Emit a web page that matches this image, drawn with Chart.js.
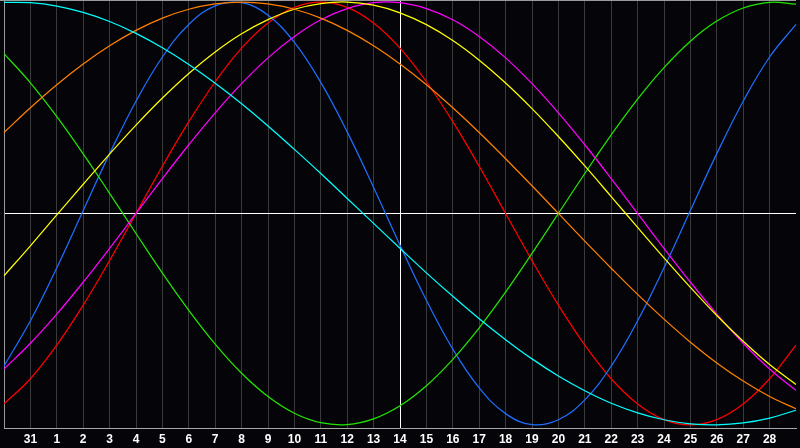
<!DOCTYPE html>
<html>
<head>
<meta charset="utf-8">
<script src="https://cdn.jsdelivr.net/npm/chart.js@4/dist/chart.umd.min.js"></script>
<style>
html,body{margin:0;padding:0;background:#050509;}
canvas{display:block;}
</style>
</head>
<body>
<canvas id="c" width="800" height="448"></canvas>
<script>
const days = ['30','31','1','2','3','4','5','6','7','8','9','10','11','12','13','14','15','16','17','18','19','20','21','22','23','24','25','26','27','28','29'];
const todayLabel = '14';

const physical = [-0.722,-0.508,-0.257,0.014,0.283,0.531,0.740,0.894,0.982,0.997,0.938,0.809,0.620,0.386,0.123,-0.150,-0.411,-0.642,-0.825,-0.947,-0.999,-0.976,-0.882,-0.722,-0.508,-0.257,0.014,0.283,0.531,0.740,0.894];
const emotional = [-0.901,-0.782,-0.623,-0.434,-0.223,0,0.223,0.434,0.623,0.782,0.901,0.975,1.000,0.975,0.901,0.782,0.623,0.434,0.223,0,-0.223,-0.434,-0.623,-0.782,-0.901,-0.975,-1.000,-0.975,-0.901,-0.782,-0.623];
const intellectual = [0.756,0.618,0.458,0.282,0.095,-0.095,-0.282,-0.458,-0.618,-0.756,-0.866,-0.945,-0.990,-0.999,-0.972,-0.910,-0.815,-0.690,-0.541,-0.372,-0.189,0,0.189,0.372,0.541,0.690,0.815,0.910,0.972,0.999,0.990];
const intuitive = [-0.736,-0.614,-0.476,-0.325,-0.165,0,0.165,0.325,0.476,0.614,0.736,0.837,0.916,0.969,0.997,0.997,0.969,0.916,0.837,0.736,0.614,0.476,0.325,0.165,0,-0.165,-0.325,-0.476,-0.614,-0.736,-0.837];
const aesthetic = [-0.295,-0.153,-0.007,0.138,0.281,0.418,0.546,0.662,0.764,0.850,0.917,0.966,0.993,1.000,0.985,0.949,0.893,0.818,0.725,0.617,0.496,0.364,0.225,0.080,-0.066,-0.210,-0.350,-0.483,-0.605,-0.715,-0.809];
const awareness = [0.383,0.500,0.609,0.707,0.793,0.866,0.924,0.966,0.991,1.000,0.991,0.966,0.924,0.866,0.793,0.707,0.609,0.500,0.383,0.259,0.131,0,-0.131,-0.259,-0.383,-0.500,-0.609,-0.707,-0.793,-0.866,-0.924];
const spiritual = [0.999,0.997,0.981,0.951,0.908,0.852,0.784,0.705,0.616,0.519,0.414,0.303,0.189,0.071,-0.047,-0.165,-0.281,-0.392,-0.498,-0.597,-0.688,-0.769,-0.839,-0.898,-0.943,-0.976,-0.995,-1.000,-0.991,-0.968,-0.931];

const seriesNames = ['Spiritual','Awareness','Aesthetic','Intuitive','Intellectual','Physical','Emotional'];
const seriesData = [spiritual, awareness, aesthetic, intuitive, intellectual, physical, emotional];
const seriesColors = ['#00ffff','#ff8000','#ffff00','#ff00ff','#22e600','#1e6eff','#ff0000'];

const todayIndex = days.indexOf(todayLabel, 2);

const framePlugin = {
  id: 'frame',
  beforeDraw(chart) {
    const ctx = chart.ctx;
    ctx.save();
    ctx.fillStyle = '#050509';
    ctx.fillRect(0, 0, chart.width, chart.height);
    ctx.restore();
  },
  afterDraw(chart) {
    const ctx = chart.ctx, a = chart.chartArea;
    ctx.save();
    ctx.strokeStyle = '#9a9a9a';
    ctx.lineWidth = 1;
    ctx.beginPath();
    ctx.moveTo(0, 0.5);
    ctx.lineTo(a.right, 0.5);
    ctx.stroke();
    ctx.restore();
  }
};

new Chart(document.getElementById('c'), {
  type: 'line',
  data: {
    labels: days,
    datasets: seriesNames.map((n, i) => ({
      label: n,
      data: seriesData[i],
      borderColor: seriesColors[i],
      borderWidth: 1.25,
      pointRadius: 0,
      tension: 0.4,
      fill: false
    }))
  },
  options: {
    responsive: false,
    animation: false,
    devicePixelRatio: 1,
    layout: { padding: { top: 1, left: 0, right: 0, bottom: 0 } },
    plugins: { legend: { display: false }, tooltip: { enabled: false } },
    scales: {
      x: {
        type: 'category',
        offset: false,
        afterFit(s) { s.height = 20; },
        border: { display: true, color: '#a8a8a8', width: 1 },
        grid: {
          offset: false,
          drawTicks: false,
          lineWidth: 1,
          color: (c) => {
            const i = c.index;
            if (i === 0 || i === days.length - 1) return 'rgba(0,0,0,0)';
            if (i === todayIndex) return '#ffffff';
            return '#3a3a3a';
          }
        },
        ticks: {
          autoSkip: false,
          maxRotation: 0,
          padding: 4,
          color: '#ffffff',
          font: { family: 'Liberation Sans', weight: 'bold', size: 12 },
          callback: function(v, i) { return (i === 0 || i === days.length - 1) ? '' : days[i]; }
        }
      },
      y: {
        min: -1.015,
        max: 1.005,
        afterFit(s) { s.width = 0; },
        afterBuildTicks(s) { s.ticks = [{ value: 0 }]; },
        border: { display: true, color: '#9a9a9a', width: 1 },
        grid: {
          drawTicks: false,
          color: (c) => (c.tick && c.tick.value === 0) ? '#ffffff' : 'rgba(0,0,0,0)'
        },
        ticks: { display: false }
      }
    }
  },
  plugins: [framePlugin]
});
</script>
</body>
</html>
